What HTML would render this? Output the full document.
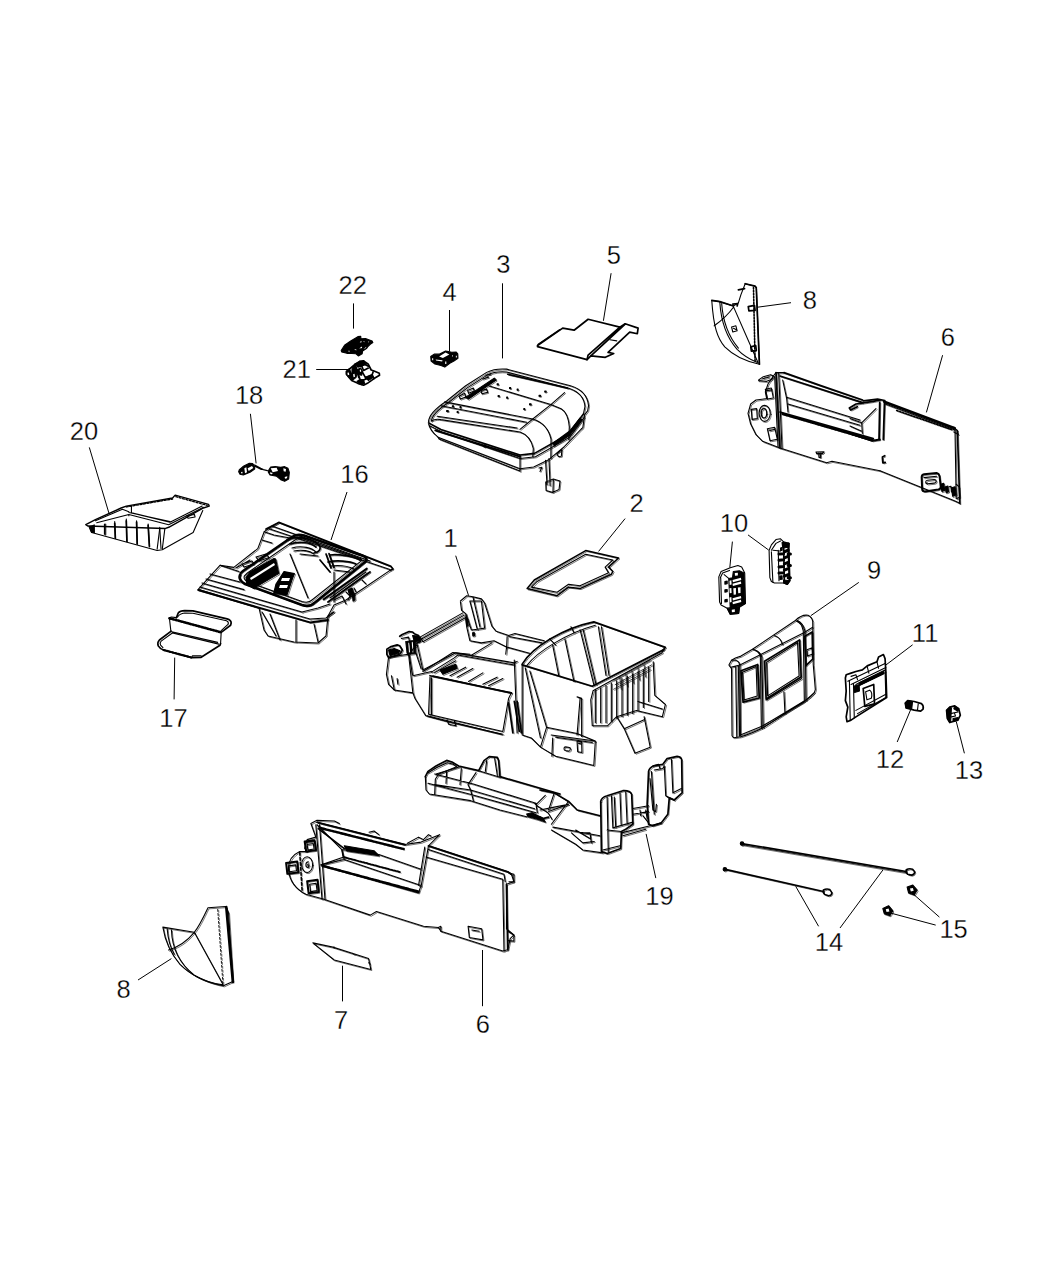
<!DOCTYPE html>
<html><head><meta charset="utf-8"><title>Console Parts</title>
<style>
html,body{margin:0;padding:0;background:#fff;width:1050px;height:1275px;overflow:hidden}
svg{display:block}
svg *{vector-effect:non-scaling-stroke}
.p path,.p polyline,.p polygon,.p line,.p ellipse,.p rect,.p circle{fill:none;stroke:#000;stroke-width:1.1;stroke-linejoin:round;stroke-linecap:round}
.p .w{fill:#fff}
.p .k{fill:#000}
.p .t{stroke-width:1.7}
.p .h{stroke-width:0.7}
.p .d{stroke-width:1.6;stroke-dasharray:1.5 1.5}
.dup *{fill:none !important;stroke-width:0.55px !important}
.lbl text{font-family:"Liberation Sans",sans-serif;font-size:25.5px;fill:#000;text-anchor:middle;stroke:#fff;stroke-width:0.3px}
.ldr line{stroke:#000;stroke-width:1;fill:none}
</style></head><body>
<svg width="1050" height="1275" viewBox="0 0 1050 1275">
<rect width="1050" height="1275" fill="#fff"/>
<!-- p01.svg -->
<g class="p" transform="translate(380,590) scale(0.142857)">
<path d="M280,330 L580,160 M300,362 L600,192 M285,346 L590,176 M280,330 L300,362"/>
<path class="t" d="M138,324 L156,312 L204,291 L228,294 L240,306 L270,318 L282,360 L258,372 M48,414 L78,396 L120,384 L138,390 L156,420 L144,444 L120,456 L60,474 L48,450 Z"/>
<path class="k" d="M186,360 L246,352 L252,444 L192,452 Z M60,420 L100,410 L140,425 L130,445 L70,460 Z M228,318 L268,322 L278,358 L240,360 Z"/>
<path class="w" style="stroke:none" d="M198,368 L206,367 L210,440 L202,441 Z M222,364 L230,363 L234,436 L226,437 Z M150,330 L200,305 L210,318 L160,340 Z"/>
<path d="M204,456 L228,594 M252,444 L288,552 M300,570 L510,438 L630,450"/>
<path d="M150,340 L200,330 L220,420 M180,360 L190,440 M60,470 L45,590 L60,660 L100,700 L230,720 L245,760 L320,880 L470,920 L860,1010 M60,470 L200,450 L230,720 M200,450 L260,380 L300,560 M230,600 L360,570"/>
<path d="M300,560 L530,440 L940,510 L960,500 M360,575 L520,475 L545,455 L940,525 M370,600 L920,720 M380,580 L530,495"/>
<path class="t" d="M350,600 L920,720"/>
<path d="M350,610 L340,870 L860,990 L900,760 L920,720 M360,615 L360,870 M330,880 L850,1010 M470,910 L480,940 L530,950 L520,915"/>
<path d="M490,600 L600,540 M620,640 L720,580 M720,660 L820,610 M760,670 L860,620 M540,610 L650,550"/>
<path class="k" d="M420,560 L530,520 L540,550 L440,590 Z"/>
<path d="M563,77 L607,40 L651,47 L710,62 L732,91 L783,253 L813,289 L901,319 L945,304 L1150,355 M563,84 L571,143 L600,165 L607,260 L629,355 L710,370 L798,355 L886,399 L1047,443 M629,77 L710,77 L732,267 L681,275 Z M651,50 L700,260 M890,326 L886,407 M901,326 L1135,370 M637,458 L783,370 M600,165 L640,280 L681,275 M886,399 L880,450"/>
<path class="k" d="M600,200 L612,198 L618,250 L606,252 Z M648,300 L660,298 L662,320 L650,322 Z"/>
<path class="t" d="M900,790 L930,1000 M960,780 L990,1000 M940,780 L975,990"/>
<path d="M80,600 L100,700 M120,620 L125,660 M940,490 L960,1000"/>
</g>
<g class="p" transform="translate(510,610) scale(0.152381)">
<path class="t" d="M80,355 C150,240 350,120 550,78 L1020,245 L1000,270"/>
<path d="M110,365 C180,270 380,150 560,100 M260,190 L300,230 M400,110 L420,150"/>
<path class="t" d="M1010,260 L540,500 L80,360"/>
<path d="M1000,280 L545,530 L530,590 L540,760 L640,760 L700,700 L830,660 L1000,700 L1020,620 L950,560 L940,340 M280,230 L320,430 M360,190 L420,470 M460,130 L550,490 M480,130 L565,490 M580,110 L630,430 M600,110 L650,430"/>
<path d="M80,360 L80,820 L140,840 L200,900 L300,960 L550,1020 L560,860 L440,810 L240,770 L130,400 M100,380 L200,840 M240,770 L200,900 M270,820 L560,860 M280,840 L275,960"/>
<path d="M560,520 L560,740 M595,510 L595,740 M630,495 L630,740 M665,480 L665,730 M700,465 L700,710 M735,450 L735,700 M770,435 L770,690 M805,420 L805,680 M840,405 L840,660 M875,390 L875,640 M910,375 L910,600"/>
<path class="h" d="M680,460 L920,330 M690,490 L930,360 M680,520 L920,390 M720,440 L730,520 M760,420 L770,500 M800,400 L810,480 M840,380 L850,460 M880,360 L890,440"/>
<path d="M700,700 L750,780 L820,940 L920,900 L880,700 M750,780 L880,720 M840,600 L1000,650 M440,570 L470,580 L470,830 M460,580 L440,820"/>
<path d="M355,905 Q355,898 365,898 L390,902 Q398,904 396,912 L394,920 Q392,926 384,926 L362,922 Q355,920 355,912 Z M440,860 L470,866 L472,935 L444,930 Z M450,875 L462,877 M300,835 L540,870"/>
</g>
<g class="p" transform="translate(380,490) scale(0.285714)">
<path style="stroke-width:1.5" d="M515,345 L540,315 L720,212 L835,238 L800,270 L815,285 L810,295 L700,345 L660,340 L620,370 Z"/>
<path d="M530,340 L550,320 L720,225 L815,245 L788,270 L800,290 L700,335 L660,330 L620,358 Z"/>
</g>

<g class="dup" transform="translate(1.2,1.0)">
<g class="p" transform="translate(380,590) scale(0.142857)">
<path d="M280,330 L580,160 M300,362 L600,192 M285,346 L590,176 M280,330 L300,362"/>
<path class="t" d="M138,324 L156,312 L204,291 L228,294 L240,306 L270,318 L282,360 L258,372 M48,414 L78,396 L120,384 L138,390 L156,420 L144,444 L120,456 L60,474 L48,450 Z"/>
<path class="k" d="M186,360 L246,352 L252,444 L192,452 Z M60,420 L100,410 L140,425 L130,445 L70,460 Z M228,318 L268,322 L278,358 L240,360 Z"/>
<path class="w" style="stroke:none" d="M198,368 L206,367 L210,440 L202,441 Z M222,364 L230,363 L234,436 L226,437 Z M150,330 L200,305 L210,318 L160,340 Z"/>
<path d="M204,456 L228,594 M252,444 L288,552 M300,570 L510,438 L630,450"/>
<path d="M150,340 L200,330 L220,420 M180,360 L190,440 M60,470 L45,590 L60,660 L100,700 L230,720 L245,760 L320,880 L470,920 L860,1010 M60,470 L200,450 L230,720 M200,450 L260,380 L300,560 M230,600 L360,570"/>
<path d="M300,560 L530,440 L940,510 L960,500 M360,575 L520,475 L545,455 L940,525 M370,600 L920,720 M380,580 L530,495"/>
<path class="t" d="M350,600 L920,720"/>
<path d="M350,610 L340,870 L860,990 L900,760 L920,720 M360,615 L360,870 M330,880 L850,1010 M470,910 L480,940 L530,950 L520,915"/>
<path d="M490,600 L600,540 M620,640 L720,580 M720,660 L820,610 M760,670 L860,620 M540,610 L650,550"/>
<path class="k" d="M420,560 L530,520 L540,550 L440,590 Z"/>
<path d="M563,77 L607,40 L651,47 L710,62 L732,91 L783,253 L813,289 L901,319 L945,304 L1150,355 M563,84 L571,143 L600,165 L607,260 L629,355 L710,370 L798,355 L886,399 L1047,443 M629,77 L710,77 L732,267 L681,275 Z M651,50 L700,260 M890,326 L886,407 M901,326 L1135,370 M637,458 L783,370 M600,165 L640,280 L681,275 M886,399 L880,450"/>
<path class="k" d="M600,200 L612,198 L618,250 L606,252 Z M648,300 L660,298 L662,320 L650,322 Z"/>
<path class="t" d="M900,790 L930,1000 M960,780 L990,1000 M940,780 L975,990"/>
<path d="M80,600 L100,700 M120,620 L125,660 M940,490 L960,1000"/>
</g>
<g class="p" transform="translate(510,610) scale(0.152381)">
<path class="t" d="M80,355 C150,240 350,120 550,78 L1020,245 L1000,270"/>
<path d="M110,365 C180,270 380,150 560,100 M260,190 L300,230 M400,110 L420,150"/>
<path class="t" d="M1010,260 L540,500 L80,360"/>
<path d="M1000,280 L545,530 L530,590 L540,760 L640,760 L700,700 L830,660 L1000,700 L1020,620 L950,560 L940,340 M280,230 L320,430 M360,190 L420,470 M460,130 L550,490 M480,130 L565,490 M580,110 L630,430 M600,110 L650,430"/>
<path d="M80,360 L80,820 L140,840 L200,900 L300,960 L550,1020 L560,860 L440,810 L240,770 L130,400 M100,380 L200,840 M240,770 L200,900 M270,820 L560,860 M280,840 L275,960"/>
<path d="M560,520 L560,740 M595,510 L595,740 M630,495 L630,740 M665,480 L665,730 M700,465 L700,710 M735,450 L735,700 M770,435 L770,690 M805,420 L805,680 M840,405 L840,660 M875,390 L875,640 M910,375 L910,600"/>
<path class="h" d="M680,460 L920,330 M690,490 L930,360 M680,520 L920,390 M720,440 L730,520 M760,420 L770,500 M800,400 L810,480 M840,380 L850,460 M880,360 L890,440"/>
<path d="M700,700 L750,780 L820,940 L920,900 L880,700 M750,780 L880,720 M840,600 L1000,650 M440,570 L470,580 L470,830 M460,580 L440,820"/>
<path d="M355,905 Q355,898 365,898 L390,902 Q398,904 396,912 L394,920 Q392,926 384,926 L362,922 Q355,920 355,912 Z M440,860 L470,866 L472,935 L444,930 Z M450,875 L462,877 M300,835 L540,870"/>
</g>
<g class="p" transform="translate(380,490) scale(0.285714)">
<path style="stroke-width:1.5" d="M515,345 L540,315 L720,212 L835,238 L800,270 L815,285 L810,295 L700,345 L660,340 L620,370 Z"/>
<path d="M530,340 L550,320 L720,225 L815,245 L788,270 L800,290 L700,335 L660,330 L620,358 Z"/>
</g>
</g>
<!-- p03.svg -->
<g class="p" transform="translate(420,340) scale(0.190476)">
<path d="M45,430 C45,395 80,360 140,320 L240,240 L350,170 C380,155 420,150 455,153 L790,240 C850,258 880,295 885,345 L880,372 L864,393 L855,460 L849,465"/>
<path d="M60,425 C62,395 95,365 150,328 L250,250 L355,183 C385,168 420,165 455,168 L785,255 C835,272 862,305 866,350 L858,388"/>
<path style="stroke-width:1.5" d="M460,180 L775,252"/>
<path d="M360,240 L687,339 L741,361 C765,375 780,411 784,456 L781,523 M759,276 L687,339 L592,415 L525,469"/>
<path d="M130,325 L592,415 C640,430 675,465 688,520 L687,622 M110,345 L560,432"/>
<path d="M60,425 C75,415 95,415 110,418 L525,483 C560,495 585,525 595,570 L592,613"/>
<path d="M90,400 L510,462"/>
<path style="stroke-width:1.6" d="M45,435 L110,470 L525,604 L601,595 L777,496 L858,388"/>
<path d="M50,450 L120,485 L525,622 L606,613 L786,510 L862,406"/>
<path class="k" d="M700,540 L786,478 L840,410 L850,420 L786,500 L704,556 Z"/>
<path d="M45,440 C50,465 70,490 95,510 L525,676 L597,667 L678,627 L759,559 L849,465"/>
<path style="stroke-width:1.8" d="M80,475 L330,552 L525,612"/>
<path d="M95,510 L100,520 L525,688 M525,604 L525,688"/>
<path class="k" d="M240,300 L390,200 L400,210 L255,310 Z"/>
<path d="M205,295 L235,280 L240,300 L212,310 Z M250,265 L280,252 L285,268 L255,280 Z M320,265 L350,258 L355,275 L325,282 Z M330,205 L360,195 M345,185 L370,180"/>
<circle class="k" cx="340" cy="556" r="6"/>
<path class="k" d="M405,230 l6,0 l0,5 l-6,0z M470,250 l6,0 l0,5 l-6,0z M510,258 l5,0 l0,5 l-5,0z M410,292 l6,0 l0,5 l-6,0z M455,300 l5,0 l0,5 l-5,0z M625,290 l8,0 l0,5 l-8,0z M655,268 l7,0 l0,5 l-7,0z M575,335 l8,0 l0,5 l-8,0z M545,360 l5,0 l0,5 l-5,0z M170,345 l6,0 l0,5 l-6,0z M210,350 l5,0 l0,5 l-5,0z M140,370 l8,0 l0,5 l-8,0z M195,375 l5,0 l0,5 l-5,0z"/>
<path d="M659,632 L667,760 M677,622 L683,765 M660,745 L700,730 L735,740 L730,785 L695,800 L662,790 Z M700,735 L698,800 M718,597 L745,575 L742,610 L727,612 Z M625,672 L640,668 L630,690"/>
</g>

<g class="dup" transform="translate(1.0,1.0)">
<g class="p" transform="translate(420,340) scale(0.190476)">
<path d="M45,430 C45,395 80,360 140,320 L240,240 L350,170 C380,155 420,150 455,153 L790,240 C850,258 880,295 885,345 L880,372 L864,393 L855,460 L849,465"/>
<path d="M60,425 C62,395 95,365 150,328 L250,250 L355,183 C385,168 420,165 455,168 L785,255 C835,272 862,305 866,350 L858,388"/>
<path style="stroke-width:1.5" d="M460,180 L775,252"/>
<path d="M360,240 L687,339 L741,361 C765,375 780,411 784,456 L781,523 M759,276 L687,339 L592,415 L525,469"/>
<path d="M130,325 L592,415 C640,430 675,465 688,520 L687,622 M110,345 L560,432"/>
<path d="M60,425 C75,415 95,415 110,418 L525,483 C560,495 585,525 595,570 L592,613"/>
<path d="M90,400 L510,462"/>
<path style="stroke-width:1.6" d="M45,435 L110,470 L525,604 L601,595 L777,496 L858,388"/>
<path d="M50,450 L120,485 L525,622 L606,613 L786,510 L862,406"/>
<path class="k" d="M700,540 L786,478 L840,410 L850,420 L786,500 L704,556 Z"/>
<path d="M45,440 C50,465 70,490 95,510 L525,676 L597,667 L678,627 L759,559 L849,465"/>
<path style="stroke-width:1.8" d="M80,475 L330,552 L525,612"/>
<path d="M95,510 L100,520 L525,688 M525,604 L525,688"/>
<path class="k" d="M240,300 L390,200 L400,210 L255,310 Z"/>
<path d="M205,295 L235,280 L240,300 L212,310 Z M250,265 L280,252 L285,268 L255,280 Z M320,265 L350,258 L355,275 L325,282 Z M330,205 L360,195 M345,185 L370,180"/>
<circle class="k" cx="340" cy="556" r="6"/>
<path class="k" d="M405,230 l6,0 l0,5 l-6,0z M470,250 l6,0 l0,5 l-6,0z M510,258 l5,0 l0,5 l-5,0z M410,292 l6,0 l0,5 l-6,0z M455,300 l5,0 l0,5 l-5,0z M625,290 l8,0 l0,5 l-8,0z M655,268 l7,0 l0,5 l-7,0z M575,335 l8,0 l0,5 l-8,0z M545,360 l5,0 l0,5 l-5,0z M170,345 l6,0 l0,5 l-6,0z M210,350 l5,0 l0,5 l-5,0z M140,370 l8,0 l0,5 l-8,0z M195,375 l5,0 l0,5 l-5,0z"/>
<path d="M659,632 L667,760 M677,622 L683,765 M660,745 L700,730 L735,740 L730,785 L695,800 L662,790 Z M700,735 L698,800 M718,597 L745,575 L742,610 L727,612 Z M625,672 L640,668 L630,690"/>
</g>
</g>
<!-- p04.svg -->
<g class="p" transform="translate(425,345) scale(0.038095)">
<path class="k" d="M150,300 L240,240 L370,240 L540,160 L620,170 L700,190 L820,185 L860,230 L865,350 L760,420 L650,480 L520,580 L420,540 L260,500 L160,420 Z"/>
<path class="w" style="stroke:none" d="M370,300 L540,200 L640,250 L470,340 Z M280,380 L460,400 L450,430 L290,410 Z M185,350 L215,350 L215,400 L190,400 Z M530,430 L560,430 L560,500 L530,500 Z M810,280 L835,280 L835,330 L810,330 Z M710,270 L730,270 L730,300 L710,300 Z"/>
</g>

<!-- p05.svg -->
<g class="p" transform="translate(520,240) scale(0.152381)">
<path class="t" d="M115,692 L280,578 L355,592 L447,520 L655,572 L690,550 L775,578 L770,615 L720,605 L578,738 L615,745 L560,770 L465,760 L440,785 L115,700 Z"/>
<path class="t" d="M440,785 L447,755 L655,572 M465,760 L690,552"/>
<path d="M590,655 L635,662"/>
<path class="t" d="M120,685 L260,590"/>
</g>

<!-- p06a.svg -->
<g class="p" transform="translate(740,360) scale(0.133333)">
<path d="M140,150 L175,125 L230,110 L250,120 L240,145 L200,160 L140,155 Z M170,140 L220,128"/>
<path d="M250,120 L270,95 L330,95 M250,120 L210,180 L190,240 L200,290 L120,300 L80,330 L60,400 L80,480 L120,560 L170,610 L300,660 L650,770 L690,760 L1050,830"/>
<path class="t" d="M270,95 L300,660"/>
<path d="M290,100 L315,660 M260,125 L285,650"/>
<path class="t" d="M330,95 L600,190 L920,300 M300,120 L920,320"/>
<ellipse cx="185" cy="400" rx="42" ry="60"/>
<ellipse cx="180" cy="400" rx="20" ry="35"/>
<path d="M190,220 L235,210 L250,285 L205,292 Z M205,515 L260,505 L280,595 L225,605 Z M85,370 L125,365 L130,440 L90,445 Z M200,230 L235,225 M220,530 L262,520"/>
<path d="M320,150 L350,290 L360,390 M350,280 L900,450 M360,330 L900,490"/>
<path class="t" d="M300,390 L1000,590"/>
<path class="d" style="stroke-width:2.4" d="M320,405 L990,600"/>
<path class="t" d="M820,360 L870,330 L1000,310 L1050,300 M820,360 L830,375 L880,350"/>
<path d="M570,690 L630,688 L620,700 L575,702 Z M590,700 L592,730 L605,730 L603,700"/>
</g>
<g class="p" transform="translate(730,320) scale(0.238095)">
<path class="t" d="M560,340 L620,332 L650,338"/>
<path d="M940,450 L955,465"/>
<path d="M650,352 L945,462"/>
<path style="stroke-width:2.6" d="M648,343 L944,455"/>
<path style="stroke-width:1.8" d="M629,346 L626,502 M649,346 L644,502"/>
<path class="t" d="M955,465 L965,770"/>
<path d="M945,460 L950,750 M630,633 L945,760 L965,770 M940,470 L960,480"/>
<path class="d" d="M700,380 L930,460"/>
<path style="stroke-width:2" d="M805,660 Q805,650 815,648 L868,643 Q878,645 880,655 L885,700 Q885,710 875,712 L818,720 Q808,720 807,710 Z"/>
<path d="M815,662 L868,656 M822,680 Q822,674 830,673 L858,670 Q866,670 866,677 Q866,684 858,685 L830,688 Q822,689 822,680 Z"/>
<path class="k" d="M885,690 L898,686 L902,716 L890,720 Z M905,700 L915,697 L918,722 L908,725 Z M930,705 L945,700 L950,735 L935,740 Z"/>
<path d="M920,700 L928,698 L930,722 M950,690 L962,700 L965,745 L952,750"/>
<path class="t" d="M640,575 L650,570 M640,578 L642,600 L652,598"/>
<path d="M504,414 L553,432 L613,372 M553,432 L556,476 M504,445 L551,466"/>
<path style="stroke-width:2.2" d="M504,476 L598,507 L629,502"/>
</g>

<g class="dup" transform="translate(1.0,1.1)">
<g class="p" transform="translate(740,360) scale(0.133333)">
<path d="M140,150 L175,125 L230,110 L250,120 L240,145 L200,160 L140,155 Z M170,140 L220,128"/>
<path d="M250,120 L270,95 L330,95 M250,120 L210,180 L190,240 L200,290 L120,300 L80,330 L60,400 L80,480 L120,560 L170,610 L300,660 L650,770 L690,760 L1050,830"/>
<path class="t" d="M270,95 L300,660"/>
<path d="M290,100 L315,660 M260,125 L285,650"/>
<path class="t" d="M330,95 L600,190 L920,300 M300,120 L920,320"/>
<ellipse cx="185" cy="400" rx="42" ry="60"/>
<ellipse cx="180" cy="400" rx="20" ry="35"/>
<path d="M190,220 L235,210 L250,285 L205,292 Z M205,515 L260,505 L280,595 L225,605 Z M85,370 L125,365 L130,440 L90,445 Z M200,230 L235,225 M220,530 L262,520"/>
<path d="M320,150 L350,290 L360,390 M350,280 L900,450 M360,330 L900,490"/>
<path class="t" d="M300,390 L1000,590"/>
<path class="d" style="stroke-width:2.4" d="M320,405 L990,600"/>
<path class="t" d="M820,360 L870,330 L1000,310 L1050,300 M820,360 L830,375 L880,350"/>
<path d="M570,690 L630,688 L620,700 L575,702 Z M590,700 L592,730 L605,730 L603,700"/>
</g>
<g class="p" transform="translate(730,320) scale(0.238095)">
<path class="t" d="M560,340 L620,332 L650,338"/>
<path d="M940,450 L955,465"/>
<path d="M650,352 L945,462"/>
<path style="stroke-width:2.6" d="M648,343 L944,455"/>
<path style="stroke-width:1.8" d="M629,346 L626,502 M649,346 L644,502"/>
<path class="t" d="M955,465 L965,770"/>
<path d="M945,460 L950,750 M630,633 L945,760 L965,770 M940,470 L960,480"/>
<path class="d" d="M700,380 L930,460"/>
<path style="stroke-width:2" d="M805,660 Q805,650 815,648 L868,643 Q878,645 880,655 L885,700 Q885,710 875,712 L818,720 Q808,720 807,710 Z"/>
<path d="M815,662 L868,656 M822,680 Q822,674 830,673 L858,670 Q866,670 866,677 Q866,684 858,685 L830,688 Q822,689 822,680 Z"/>
<path class="k" d="M885,690 L898,686 L902,716 L890,720 Z M905,700 L915,697 L918,722 L908,725 Z M930,705 L945,700 L950,735 L935,740 Z"/>
<path d="M920,700 L928,698 L930,722 M950,690 L962,700 L965,745 L952,750"/>
<path class="t" d="M640,575 L650,570 M640,578 L642,600 L652,598"/>
<path d="M504,414 L553,432 L613,372 M553,432 L556,476 M504,445 L551,466"/>
<path style="stroke-width:2.2" d="M504,476 L598,507 L629,502"/>
</g>
</g>
<!-- p06b.svg -->
<g class="p" transform="translate(270,800) scale(0.247619)">
<path d="M165,95 L190,82 L260,85 L280,95 M190,90 L545,180 L610,170 L685,140 L640,185 L960,290 L975,300 L985,330 L955,340 L955,520 L985,545 L970,560 L960,605 L940,610 L690,530 L680,515 L620,510 L430,450 L405,465 L215,400 L145,381 C105,360 80,330 75,285 C72,250 90,222 120,208 L150,208 L140,195 L150,160 L185,150 L165,95"/>
<path class="t" d="M190,90 L545,180 M640,185 L960,290 L975,300 M955,340 L960,605"/>
<path style="stroke-width:2.4;stroke-dasharray:2 1.2" d="M200,112 L540,198"/>
<path style="stroke-width:2.4;stroke-dasharray:2 1.2" d="M212,266 L600,370"/>
<path d="M185,100 L210,400 M200,100 L222,400 M190,100 L290,200 L300,240 L610,345 L600,375 L205,262 M290,200 L440,220 L610,280 M300,240 L205,262 M640,185 L610,350 M625,190 L600,345 M640,200 L945,300 L950,330 M630,230 L940,320 M940,320 L945,610"/>
<path class="k" d="M300,185 L420,205 L440,225 L310,205 Z"/>
<ellipse cx="150" cy="261" rx="22" ry="32"/>
<path d="M155,250 Q145,250 145,262 Q145,274 155,272 L158,262 L152,262"/>
<path style="stroke-width:2" d="M140,168 L180,163 L186,203 L146,208 Z M150,328 L192,322 L197,372 L156,377 Z M65,254 L110,248 L115,293 L70,298 Z"/>
<path d="M150,180 L175,176 L178,198 L153,202 Z M160,340 L186,336 L190,366 L164,370 Z M75,266 L104,262 L107,286 L78,290 Z"/>
<path class="d" style="stroke-width:1.6;stroke-dasharray:3 2" d="M120,211 L130,371"/>
<path style="stroke-width:1.6" d="M195,116 L300,196"/>
<path style="stroke-width:1.8;stroke-dasharray:2 1.2" d="M300,231 L525,291"/>
<path d="M290,201 L295,231 L210,261 M145,170 L180,165 M965,295 L985,300 L985,330 L965,330 M960,530 L985,545 L985,570 L962,568 M800,510 L855,520 L860,565 L805,555 Z M815,525 L845,530 M690,530 L690,510 L680,515"/>
<path d="M555,175 L600,150 L620,160 L640,140 L650,145 M400,130 L420,125 L440,140"/>
</g>
<g class="p" transform="translate(100,890) scale(0.285714)">
<path d="M220,130 L330,148 C345,130 360,100 378,62 L440,58 L450,80 L465,320 L432,335 C380,325 320,300 280,260 C245,220 228,180 220,130 Z"/>
<path d="M250,140 C252,200 275,255 330,298 C365,318 400,328 430,332 M330,148 L430,330 M330,148 C300,185 270,200 240,210 M235,135 C238,175 245,200 260,225"/>
<path style="stroke-width:2.6" d="M442,60 L465,322"/>
<path style="stroke-width:0.9;stroke-dasharray:2 2" d="M412,68 L430,325"/>
<path d="M745,185 L815,200 L940,240 L948,278 L820,245 Z M815,200 L820,200 M885,222 L890,225 M940,255 L945,258"/>
</g>
<g class="p" transform="translate(700,820) scale(0.285714)">
<path style="stroke-width:1.6" d="M145,82 L722,180 M85,172 L432,250"/>
<path style="stroke-width:0.8" d="M145,86 L722,184"/>
<circle class="k" cx="147" cy="82" r="6"/>
<circle class="k" cx="87" cy="172" r="6"/>
<path style="stroke-width:1.6" d="M722,174 Q732,168 744,172 L752,182 Q750,192 740,193 L727,190 Q719,184 722,174 Z M432,245 Q442,239 454,243 L462,255 Q460,265 450,265 L437,261 Q429,255 432,245 Z"/>
<path class="k" d="M725,235 L745,228 L760,245 L750,262 L730,255 Z M640,310 L660,300 L675,318 L665,335 L645,328 Z"/>
<path class="w" style="stroke:none" d="M735,240 L745,238 L748,248 L738,250 Z M650,312 L660,310 L663,320 L653,322 Z"/>
</g>

<g class="dup" transform="translate(1.0,1.1)">
<g class="p" transform="translate(270,800) scale(0.247619)">
<path d="M165,95 L190,82 L260,85 L280,95 M190,90 L545,180 L610,170 L685,140 L640,185 L960,290 L975,300 L985,330 L955,340 L955,520 L985,545 L970,560 L960,605 L940,610 L690,530 L680,515 L620,510 L430,450 L405,465 L215,400 L145,381 C105,360 80,330 75,285 C72,250 90,222 120,208 L150,208 L140,195 L150,160 L185,150 L165,95"/>
<path class="t" d="M190,90 L545,180 M640,185 L960,290 L975,300 M955,340 L960,605"/>
<path style="stroke-width:2.4;stroke-dasharray:2 1.2" d="M200,112 L540,198"/>
<path style="stroke-width:2.4;stroke-dasharray:2 1.2" d="M212,266 L600,370"/>
<path d="M185,100 L210,400 M200,100 L222,400 M190,100 L290,200 L300,240 L610,345 L600,375 L205,262 M290,200 L440,220 L610,280 M300,240 L205,262 M640,185 L610,350 M625,190 L600,345 M640,200 L945,300 L950,330 M630,230 L940,320 M940,320 L945,610"/>
<path class="k" d="M300,185 L420,205 L440,225 L310,205 Z"/>
<ellipse cx="150" cy="261" rx="22" ry="32"/>
<path d="M155,250 Q145,250 145,262 Q145,274 155,272 L158,262 L152,262"/>
<path style="stroke-width:2" d="M140,168 L180,163 L186,203 L146,208 Z M150,328 L192,322 L197,372 L156,377 Z M65,254 L110,248 L115,293 L70,298 Z"/>
<path d="M150,180 L175,176 L178,198 L153,202 Z M160,340 L186,336 L190,366 L164,370 Z M75,266 L104,262 L107,286 L78,290 Z"/>
<path class="d" style="stroke-width:1.6;stroke-dasharray:3 2" d="M120,211 L130,371"/>
<path style="stroke-width:1.6" d="M195,116 L300,196"/>
<path style="stroke-width:1.8;stroke-dasharray:2 1.2" d="M300,231 L525,291"/>
<path d="M290,201 L295,231 L210,261 M145,170 L180,165 M965,295 L985,300 L985,330 L965,330 M960,530 L985,545 L985,570 L962,568 M800,510 L855,520 L860,565 L805,555 Z M815,525 L845,530 M690,530 L690,510 L680,515"/>
<path d="M555,175 L600,150 L620,160 L640,140 L650,145 M400,130 L420,125 L440,140"/>
</g>
<g class="p" transform="translate(100,890) scale(0.285714)">
<path d="M220,130 L330,148 C345,130 360,100 378,62 L440,58 L450,80 L465,320 L432,335 C380,325 320,300 280,260 C245,220 228,180 220,130 Z"/>
<path d="M250,140 C252,200 275,255 330,298 C365,318 400,328 430,332 M330,148 L430,330 M330,148 C300,185 270,200 240,210 M235,135 C238,175 245,200 260,225"/>
<path style="stroke-width:2.6" d="M442,60 L465,322"/>
<path style="stroke-width:0.9;stroke-dasharray:2 2" d="M412,68 L430,325"/>
<path d="M745,185 L815,200 L940,240 L948,278 L820,245 Z M815,200 L820,200 M885,222 L890,225 M940,255 L945,258"/>
</g>
<g class="p" transform="translate(700,820) scale(0.285714)">
<path style="stroke-width:1.6" d="M145,82 L722,180 M85,172 L432,250"/>
<path style="stroke-width:0.8" d="M145,86 L722,184"/>
<circle class="k" cx="147" cy="82" r="6"/>
<circle class="k" cx="87" cy="172" r="6"/>
<path style="stroke-width:1.6" d="M722,174 Q732,168 744,172 L752,182 Q750,192 740,193 L727,190 Q719,184 722,174 Z M432,245 Q442,239 454,243 L462,255 Q460,265 450,265 L437,261 Q429,255 432,245 Z"/>
<path class="k" d="M725,235 L745,228 L760,245 L750,262 L730,255 Z M640,310 L660,300 L675,318 L665,335 L645,328 Z"/>
<path class="w" style="stroke:none" d="M735,240 L745,238 L748,248 L738,250 Z M650,312 L660,310 L663,320 L653,322 Z"/>
</g>
</g>
<!-- p08a.svg -->
<g class="p" transform="translate(700,280) scale(0.123810)">
<path d="M95,165 L160,175 L270,210 L310,185 L330,120 L365,30 L445,50 L455,62 L480,680 C380,660 280,620 200,540 C140,470 110,380 95,165 Z"/>
<path class="t" d="M95,165 L160,175 L270,210 M365,30 L445,50 L455,62"/>
<path d="M270,215 L470,670 M270,220 C220,290 170,330 115,370 M160,180 C170,330 210,460 300,560 C350,610 400,640 460,665 M175,190 C185,330 225,450 310,550"/>
<path class="t" d="M455,70 L480,680"/>
<path class="d" d="M432,60 L445,660"/>
<path class="t" d="M390,215 L440,205 L445,245 L395,250 Z M410,540 L450,530 L455,570 L415,575 Z M310,80 L360,70 M265,195 L305,190 L300,210"/>
<path d="M255,380 L290,370 L300,410 L265,420 Z M270,390 L290,400"/>
</g>

<!-- p09.svg -->
<g class="p" transform="translate(720,610) scale(0.104762)">
<path d="M85,525 L110,480 Q140,455 200,440 L310,375 L720,100 Q780,40 840,50 Q880,70 885,110 L890,520 L910,760 L900,790 Q870,830 820,860 L420,1120 Q300,1180 200,1210 L130,1220 L115,1200 L110,560 Z"/>
<path d="M110,545 L190,525 L800,218 L885,165 M110,480 Q160,470 180,500 L190,530 L195,1200 M150,545 L160,1210 M175,535 L185,1205"/>
<path d="M310,375 Q370,390 385,440 L395,1130 M330,380 Q385,400 400,450 L412,1125 M720,100 Q780,120 795,200 L805,870 M740,100 Q795,125 812,205 L822,865 M520,245 Q580,260 595,330"/>
<path class="t" d="M425,490 L760,285 L775,640 L440,850 Z"/>
<path d="M445,500 L740,310 L755,630 L455,820 Z M440,860 L780,655"/>
<path class="t" d="M200,580 L360,520 L375,840 L220,880 Z"/>
<path d="M215,595 L345,540 L355,820 L230,860 Z"/>
<path class="t" d="M810,250 L880,210 L885,470 L820,530 Z"/>
<path d="M830,380 L880,360 L885,420 L835,440 Z"/>
<path d="M200,1190 L400,1110 L800,880 L900,790 M610,780 L620,990 M420,1100 L800,870"/>
</g>

<g class="dup" transform="translate(1.1,0.9)">
<g class="p" transform="translate(720,610) scale(0.104762)">
<path d="M85,525 L110,480 Q140,455 200,440 L310,375 L720,100 Q780,40 840,50 Q880,70 885,110 L890,520 L910,760 L900,790 Q870,830 820,860 L420,1120 Q300,1180 200,1210 L130,1220 L115,1200 L110,560 Z"/>
<path d="M110,545 L190,525 L800,218 L885,165 M110,480 Q160,470 180,500 L190,530 L195,1200 M150,545 L160,1210 M175,535 L185,1205"/>
<path d="M310,375 Q370,390 385,440 L395,1130 M330,380 Q385,400 400,450 L412,1125 M720,100 Q780,120 795,200 L805,870 M740,100 Q795,125 812,205 L822,865 M520,245 Q580,260 595,330"/>
<path class="t" d="M425,490 L760,285 L775,640 L440,850 Z"/>
<path d="M445,500 L740,310 L755,630 L455,820 Z M440,860 L780,655"/>
<path class="t" d="M200,580 L360,520 L375,840 L220,880 Z"/>
<path d="M215,595 L345,540 L355,820 L230,860 Z"/>
<path class="t" d="M810,250 L880,210 L885,470 L820,530 Z"/>
<path d="M830,380 L880,360 L885,420 L835,440 Z"/>
<path d="M200,1190 L400,1110 L800,880 L900,790 M610,780 L620,990 M420,1100 L800,870"/>
</g>
</g>
<!-- p10.svg -->
<g class="p" transform="translate(715,535) scale(0.07619)">
<path d="M50,550 L80,480 L200,430 L300,400 L350,420 L390,500 L400,900 L320,950 L310,1030 L200,1040 L160,960 L80,920 L60,880 Z"/>
<path d="M70,560 L100,500 L190,465 M75,560 L85,900 M120,520 L180,570"/>
<path class="k" d="M180,570 L230,560 L240,480 L320,470 L380,500 L395,900 L320,940 L200,960 Z M160,960 L320,950 L310,1030 L200,1040 Z"/>
<path class="w" style="stroke:none" d="M230,590 L340,560 L345,590 L235,620 Z M230,640 L340,610 L345,640 L235,670 Z M230,830 L340,800 L345,830 L235,860 Z M230,880 L340,850 L345,880 L235,910 Z M240,700 L275,695 L275,780 L245,785 Z M300,690 L335,685 L335,760 L305,765 Z M190,600 L215,595 L218,650 L193,655 Z M190,700 L215,695 L218,760 L193,765 Z M190,820 L215,815 L218,880 L193,885 Z M260,500 L300,495 L300,530 L262,535 Z M220,980 L260,975 L260,1010 L222,1015 Z"/>
<path class="k" d="M130,610 L160,605 L160,640 L130,645 Z M130,720 L160,715 L160,745 L130,750 Z M130,850 L160,845 L160,875 L130,880 Z"/>
<path d="M710,200 L740,130 L800,60 L860,50 L900,90 L970,110 L985,600 L950,650 L900,630 L780,630 L740,610 L720,560 Z"/>
<path d="M740,220 L760,620 M760,200 L860,210 M740,200 L800,110 L860,80 M830,200 L840,600"/>
<path class="t" d="M900,100 L910,600 M960,110 L975,600"/>
<path class="k" d="M880,100 L975,110 L970,160 L890,170 Z M900,590 L985,600 L950,650 L900,630 Z"/>
<path style="stroke-width:3" d="M840,250 L900,245 M840,330 L900,325 M840,420 L900,415 M840,500 L900,495 M910,220 L960,200 M910,300 L960,280 M910,380 L960,360 M910,460 L960,440 M910,540 L960,520 M960,250 L990,250 M960,400 L990,400 M960,560 L990,560"/>
<path class="k" d="M850,540 L880,535 L882,580 L852,585 Z M860,170 L880,165 L882,200 L862,205 Z"/>
</g>

<!-- p11.svg -->
<g class="p" transform="translate(830,610) scale(0.161905)">
<path class="t" d="M95,420 L100,400 L130,390 L160,380 L200,370 L230,345 L290,320 L300,290 L330,275 L340,300 L345,380 L350,540 L160,660 L130,680 L105,690 L100,660 L110,600 L95,560 L100,500 Z"/>
<path d="M110,440 L340,330 M130,460 L345,355 M150,480 L345,385 M120,440 L125,680 M145,455 L150,665 M160,460 L340,370 L345,540"/>
<path class="k" d="M150,470 L180,460 L182,500 L152,510 Z M180,450 L330,380 L330,395 L185,465 Z"/>
<path class="t" d="M205,485 L270,460 L275,580 L215,595 Z"/>
<path d="M220,505 L245,495 Q265,510 255,545 L228,555 Z M160,620 L345,520 M170,640 L345,540"/>
<path d="M130,410 L160,400 L170,430 M230,350 L240,390 M290,320 L300,360"/>
</g>
<g class="p" transform="translate(830,610) scale(0.161905)">
<path class="t" d="M465,575 L480,560 L520,565 L565,578 Q580,590 575,612 L560,625 L520,618 L470,605 Z"/>
<path class="k" d="M465,575 L480,560 L510,565 L505,608 L470,605 Z"/>
<path d="M545,580 L540,620"/>
<path class="t" d="M720,620 L740,600 L770,592 L795,610 L805,650 L790,680 L740,695 L725,670 Z"/>
<path class="k" d="M720,620 L740,600 L750,605 L745,690 L740,695 L725,670 Z M770,592 L795,610 L790,625 L765,610 Z M760,670 L790,665 L790,680 L760,688 Z"/>
<path d="M745,640 L790,630 M750,660 L775,655 L770,640"/>
</g>

<!-- p16.svg -->
<g class="p" transform="translate(190,460) scale(0.2)">
<path class="t" d="M380,345 L444,312 L1005,532 L1015,545 L1000,552"/>
<path d="M444,312 L392,343 L371,359 L339,443 L219,537 L151,526 L41,647 L345,740 M1000,552 L870,640 L780,700 L720,725 L690,780 L680,880 L640,915 L520,910 L390,880 L370,850 L345,740"/>
<path d="M392,343 L1000,548 M410,330 L900,505 M371,359 L420,375 L500,390 M360,400 L410,415"/>
<path d="M151,526 L245,558 M60,615 L560,760 M50,635 L600,795 M600,795 L680,790 L720,760 M100,570 L250,610 M80,595 L270,648 M560,760 L640,740 L700,720"/>
<path style="stroke-width:2" d="M41,650 L600,812 L690,800"/>
<path style="stroke-width:2.6" d="M250,575 Q240,600 275,620 L560,725 Q600,738 625,712 L875,510 Q895,490 860,478 L570,378 Q535,368 510,385 L265,555 Q250,565 250,575 Z"/>
<path d="M272,580 Q265,598 292,610 L560,708 Q592,718 610,700 L852,508 Q866,496 843,489 L572,396 Q543,388 525,400 L287,565 Z"/>
<path class="k" d="M282,585 L300,560 L420,492 L428,495 L444,568 L318,642 L282,618 Z"/>
<path class="w" style="stroke:none" d="M300,590 L420,515 L425,525 L305,600 Z"/>
<path class="k" d="M470,558 L522,568 L510,600 L486,673 L418,668 L430,620 Z"/>
<path class="w" style="stroke:none" d="M460,590 L500,590 L495,605 L455,605 Z M450,625 L490,625 L485,640 L445,640 Z"/>
<path d="M500,470 L590,690 M720,560 L720,710 M230,540 L300,500 M330,485 L380,470 L395,488 L345,505 Z M260,520 L310,505 L320,520 L270,535 Z"/>
<path class="t" d="M485,400 C520,380 600,385 640,420 C660,440 650,460 620,465 M500,420 C540,405 600,410 630,435"/>
<path d="M510,440 C560,425 610,440 630,460 M520,455 C560,445 600,455 620,470 M550,470 L640,480"/>
<path class="t" d="M700,475 C740,470 820,480 850,500 M690,510 C730,500 800,505 830,520"/>
<path d="M700,530 C740,525 790,530 820,545 M720,550 L800,560"/>
<path class="t" d="M680,470 L705,540 M695,468 L720,538 M650,500 L700,560"/>
<path style="stroke-width:2" d="M668,697 L884,543 M690,710 L900,560"/>
<path d="M700,690 L880,560 M720,700 L760,680 L780,720 M780,660 L800,680 L790,700 M820,640 L830,660 M860,600 L880,620"/>
<path class="k" d="M790,650 L810,640 L820,670 L800,680 Z M812,672 L822,668 L825,700 L815,705 Z"/>
<path d="M360,760 L430,880 M530,800 L530,910 M620,820 L640,910 M400,770 L450,900 M690,780 L720,760"/>
</g>

<g class="dup" transform="translate(1.1,1.0)">
<g class="p" transform="translate(190,460) scale(0.2)">
<path class="t" d="M380,345 L444,312 L1005,532 L1015,545 L1000,552"/>
<path d="M444,312 L392,343 L371,359 L339,443 L219,537 L151,526 L41,647 L345,740 M1000,552 L870,640 L780,700 L720,725 L690,780 L680,880 L640,915 L520,910 L390,880 L370,850 L345,740"/>
<path d="M392,343 L1000,548 M410,330 L900,505 M371,359 L420,375 L500,390 M360,400 L410,415"/>
<path d="M151,526 L245,558 M60,615 L560,760 M50,635 L600,795 M600,795 L680,790 L720,760 M100,570 L250,610 M80,595 L270,648 M560,760 L640,740 L700,720"/>
<path style="stroke-width:2" d="M41,650 L600,812 L690,800"/>
<path style="stroke-width:2.6" d="M250,575 Q240,600 275,620 L560,725 Q600,738 625,712 L875,510 Q895,490 860,478 L570,378 Q535,368 510,385 L265,555 Q250,565 250,575 Z"/>
<path d="M272,580 Q265,598 292,610 L560,708 Q592,718 610,700 L852,508 Q866,496 843,489 L572,396 Q543,388 525,400 L287,565 Z"/>
<path class="k" d="M282,585 L300,560 L420,492 L428,495 L444,568 L318,642 L282,618 Z"/>
<path class="w" style="stroke:none" d="M300,590 L420,515 L425,525 L305,600 Z"/>
<path class="k" d="M470,558 L522,568 L510,600 L486,673 L418,668 L430,620 Z"/>
<path class="w" style="stroke:none" d="M460,590 L500,590 L495,605 L455,605 Z M450,625 L490,625 L485,640 L445,640 Z"/>
<path d="M500,470 L590,690 M720,560 L720,710 M230,540 L300,500 M330,485 L380,470 L395,488 L345,505 Z M260,520 L310,505 L320,520 L270,535 Z"/>
<path class="t" d="M485,400 C520,380 600,385 640,420 C660,440 650,460 620,465 M500,420 C540,405 600,410 630,435"/>
<path d="M510,440 C560,425 610,440 630,460 M520,455 C560,445 600,455 620,470 M550,470 L640,480"/>
<path class="t" d="M700,475 C740,470 820,480 850,500 M690,510 C730,500 800,505 830,520"/>
<path d="M700,530 C740,525 790,530 820,545 M720,550 L800,560"/>
<path class="t" d="M680,470 L705,540 M695,468 L720,538 M650,500 L700,560"/>
<path style="stroke-width:2" d="M668,697 L884,543 M690,710 L900,560"/>
<path d="M700,690 L880,560 M720,700 L760,680 L780,720 M780,660 L800,680 L790,700 M820,640 L830,660 M860,600 L880,620"/>
<path class="k" d="M790,650 L810,640 L820,670 L800,680 Z M812,672 L822,668 L825,700 L815,705 Z"/>
<path d="M360,760 L430,880 M530,800 L530,910 M620,820 L640,910 M400,770 L450,900 M690,780 L720,760"/>
</g>
</g>
<!-- p17.svg -->
<g class="p" transform="translate(140,590) scale(0.117647)">
<path class="t" d="M310,235 L325,195 Q340,175 380,175 L450,178 L740,245 Q775,255 775,280 L770,300 L690,360"/>
<path d="M320,230 Q335,200 380,195 L450,198 L735,262 Q755,270 750,290 L690,345"/>
<path class="t d" style="stroke-width:2.6" d="M250,240 L690,360"/>
<path d="M250,240 L265,230 L310,235 M250,240 L262,345 M690,360 L685,455"/>
<path class="t" d="M265,350 L165,425 Q145,445 155,475 Q170,500 200,510 L440,575 L520,572 L680,470 L685,455"/>
<path class="d" style="stroke-width:2.2" d="M200,510 L440,575"/>
<path d="M275,365 L180,435 Q165,450 175,468 L195,490 M275,365 L670,460 M270,355 L660,445"/>
<path d="M440,575 L445,560 L520,560"/>
</g>

<!-- p18.svg -->
<g class="p" transform="translate(230,455) scale(0.066667)">
<path class="k" d="M140,220 L200,170 L290,125 L340,130 L370,170 L370,210 L300,260 L200,300 L150,290 L130,250 Z"/>
<path class="w" style="stroke:none" d="M215,200 L245,185 L255,260 L225,272 Z M265,200 L330,165 L350,195 L280,240 Z M165,255 L185,250 L190,275 L170,278 Z"/>
<path style="stroke-width:1.4" d="M370,150 L460,200 L500,220 L560,235 M380,170 L470,215"/>
<path class="k" d="M580,230 L610,180 L680,175 L760,185 L820,175 L870,200 L890,260 L880,360 L820,395 L760,370 L700,320 L600,300 L575,260 Z"/>
<path class="w" style="stroke:none" d="M610,200 L700,190 L720,240 L640,260 Z M800,200 L840,210 L835,250 L805,245 Z M820,330 L860,320 L855,350 L825,355 Z M600,260 L640,270 L630,290 L605,285 Z"/>
</g>

<!-- p19.svg -->
<g class="p" transform="translate(420,750) scale(0.133333)">
<path class="t" d="M40,200 L60,160 L120,120 L200,78 L240,90 L290,120 L440,155 L480,80 L520,50 L580,55 L590,80 L600,200 L1050,330"/>
<path d="M60,170 L130,130 L205,95 L245,105 L275,125 L140,180 L115,220 L110,330 M40,200 L45,300 L70,330 L380,380 L600,450 L800,500 M440,155 L600,205"/>
<path d="M120,180 L300,125 M110,180 L400,255 L870,400 M110,260 L380,300 L860,440 M60,250 L370,330 L870,470 M200,160 L195,250 M310,140 L300,260 M420,170 L360,260 L380,300 L400,380 M500,80 L490,160 M560,65 L580,190 M860,400 L880,420 M940,340 L870,410 L880,470 M880,420 L960,470 L990,520"/>
<path class="k" d="M800,480 L840,470 L920,510 L940,540 L880,520 L810,500 Z"/>
</g>
<g class="p" transform="translate(540,750) scale(0.142857)">
<path class="t" d="M0,280 L100,300 L200,360 L260,420 L420,460 M425,360 Q430,330 470,320 L580,285 Q630,282 642,310 L650,520 L600,555 L570,570 L565,690 L470,725 L430,710 L425,360 Z"/>
<path d="M470,330 L478,712 M500,320 L510,545 L650,505 M560,300 L568,520 M520,330 L530,540 M600,295 L610,520 M470,560 L570,570 M440,700 L560,670"/>
<path class="t" d="M760,150 Q765,120 800,110 L860,100 L890,60 L960,45 Q990,48 992,70 L995,300 L940,350 L905,335 L895,450 L850,510 L790,530 L760,520 L750,380 Z"/>
<path d="M870,110 L880,320 L940,350 M920,65 L930,300 L990,270 M780,150 L800,450 M800,140 L860,130 L870,110 M770,200 L790,420 L810,430 L815,380 M880,320 L905,335 M790,110 L830,100 L840,130"/>
<path d="M650,410 L760,390 M650,450 L760,430 M700,420 L705,460 M720,460 L760,510 M570,580 L750,535 L850,510 M580,600 L740,555 M740,420 L750,480"/>
<path d="M0,420 L100,400 L200,380 M60,430 L200,380 M80,560 L250,660 L300,700 L440,720 M90,540 L420,600 M100,300 L60,420 M200,360 L80,520 M220,580 L300,650 L380,640 M250,560 L350,620 M300,580 L350,580 L360,650"/>
<path class="t" style="stroke-width:1.8" d="M0,470 L20,480 L60,470"/>
</g>

<g class="dup" transform="translate(1.0,1.1)">
<g class="p" transform="translate(420,750) scale(0.133333)">
<path class="t" d="M40,200 L60,160 L120,120 L200,78 L240,90 L290,120 L440,155 L480,80 L520,50 L580,55 L590,80 L600,200 L1050,330"/>
<path d="M60,170 L130,130 L205,95 L245,105 L275,125 L140,180 L115,220 L110,330 M40,200 L45,300 L70,330 L380,380 L600,450 L800,500 M440,155 L600,205"/>
<path d="M120,180 L300,125 M110,180 L400,255 L870,400 M110,260 L380,300 L860,440 M60,250 L370,330 L870,470 M200,160 L195,250 M310,140 L300,260 M420,170 L360,260 L380,300 L400,380 M500,80 L490,160 M560,65 L580,190 M860,400 L880,420 M940,340 L870,410 L880,470 M880,420 L960,470 L990,520"/>
<path class="k" d="M800,480 L840,470 L920,510 L940,540 L880,520 L810,500 Z"/>
</g>
<g class="p" transform="translate(540,750) scale(0.142857)">
<path class="t" d="M0,280 L100,300 L200,360 L260,420 L420,460 M425,360 Q430,330 470,320 L580,285 Q630,282 642,310 L650,520 L600,555 L570,570 L565,690 L470,725 L430,710 L425,360 Z"/>
<path d="M470,330 L478,712 M500,320 L510,545 L650,505 M560,300 L568,520 M520,330 L530,540 M600,295 L610,520 M470,560 L570,570 M440,700 L560,670"/>
<path class="t" d="M760,150 Q765,120 800,110 L860,100 L890,60 L960,45 Q990,48 992,70 L995,300 L940,350 L905,335 L895,450 L850,510 L790,530 L760,520 L750,380 Z"/>
<path d="M870,110 L880,320 L940,350 M920,65 L930,300 L990,270 M780,150 L800,450 M800,140 L860,130 L870,110 M770,200 L790,420 L810,430 L815,380 M880,320 L905,335 M790,110 L830,100 L840,130"/>
<path d="M650,410 L760,390 M650,450 L760,430 M700,420 L705,460 M720,460 L760,510 M570,580 L750,535 L850,510 M580,600 L740,555 M740,420 L750,480"/>
<path d="M0,420 L100,400 L200,380 M60,430 L200,380 M80,560 L250,660 L300,700 L440,720 M90,540 L420,600 M100,300 L60,420 M200,360 L80,520 M220,580 L300,650 L380,640 M250,560 L350,620 M300,580 L350,580 L360,650"/>
<path class="t" style="stroke-width:1.8" d="M0,470 L20,480 L60,470"/>
</g>
</g>
<!-- p20.svg -->
<g class="p" transform="translate(80,490) scale(0.128571)">
<path style="stroke-width:1.4" d="M45,270 L120,230 L320,140 L360,125 L720,62 L740,40 L1000,112 L1005,125 L960,140 L690,290 L660,300 L60,280 Z"/>
<path style="stroke-width:1.3;stroke-dasharray:2 1.5" d="M360,132 L720,70 M745,52 L990,120"/>
<path d="M120,240 L330,150 L380,170 M130,255 L380,190 L690,270 M380,190 L380,200 M400,125 L400,175 M410,180 L700,250 L950,125 M690,270 L960,135 M380,175 L700,245"/>
<path d="M70,285 L80,310 L90,330 L600,470 L640,465 L880,330 L955,160"/>
<path d="M660,300 L640,460 M620,300 L600,460 M110,270 L105,330"/>
<path d="M190,265 L190,345 M270,245 L275,375 M360,225 L365,400 M440,240 L445,420 M530,265 L540,440 M620,290 L630,455 M200,265 L200,350"/>
<path class="t" d="M270,260 L275,375 M360,240 L365,400 M440,250 L445,420 M530,275 L540,440"/>
<path d="M830,200 L890,190 L895,210 L840,220 Z"/>
<path class="k" d="M75,285 L110,275 L112,330 L90,330 Z"/>
</g>

<!-- p22_21.svg -->
<g class="p" transform="translate(335,330) scale(0.047619)">
<path class="k" d="M130,430 L200,320 L330,230 L480,140 L540,130 L545,185 L640,180 L780,230 L795,265 L740,300 L690,350 L660,390 L580,440 L570,500 L490,545 L440,500 L350,495 L250,490 L140,460 Z"/>
<path class="w" style="stroke:none" d="M520,260 L550,225 L560,255 Z M590,240 L620,235 L615,255 Z M510,390 L560,345 L570,380 Z M400,400 L450,410 L445,430 Z M275,440 L300,430 L305,465 Z M690,240 L720,245 L705,265 Z M600,400 L660,350 L650,380 Z"/>
<path class="w t" d="M240,870 L300,820 L420,720 L520,660 L600,650 L700,720 L760,840 L820,860 L930,910 L935,950 L820,1020 L680,1120 L600,1160 L480,1120 L350,1060 L290,990 L240,930 Z"/>
<path class="t" d="M300,820 L360,1050 M420,720 L500,1000 M440,780 L540,1080 M520,660 L600,850 M600,650 L640,730 M580,700 L700,760 M480,760 L650,720 M600,850 L700,800 M560,860 L640,1000 M640,1000 L780,940 L800,880 M780,940 L820,1020 M600,1050 L720,1000 M470,1080 L560,1050 L600,1120"/>
<path class="k" d="M240,870 L300,820 L330,900 L340,1000 L290,990 L240,930 Z M360,780 L420,720 L440,800 L470,900 L440,1000 L370,1050 L350,1000 Z M420,720 L520,660 L600,650 L640,720 L560,760 L480,780 Z M470,830 L540,800 L580,880 L560,950 L500,940 Z M500,1050 L600,1040 L620,1120 L560,1150 L480,1120 Z M640,1000 L780,940 L800,1000 L700,1060 Z"/>
<path class="w" style="stroke:none" d="M260,900 L290,890 L300,940 L270,950 Z M380,930 L410,920 L420,980 L390,990 Z M520,840 L545,830 L550,870 L525,880 Z"/>
</g>


<g class="lbl">
<text x="352.7" y="294.3">22</text>
<text x="449.5" y="300.6">4</text>
<text x="503.4" y="273.4">3</text>
<text x="613.9" y="263.6">5</text>
<text x="809.9" y="308.5">8</text>
<text x="947.8" y="346.2">6</text>
<text x="296.7" y="378.1">21</text>
<text x="249.1" y="404">18</text>
<text x="84" y="439.9">20</text>
<text x="354.5" y="483">16</text>
<text x="636.6" y="512.3">2</text>
<text x="450.6" y="547.1">1</text>
<text x="734" y="531.8">10</text>
<text x="874.1" y="579.4">9</text>
<text x="925.1" y="641.6">11</text>
<text x="173.4" y="726.5">17</text>
<text x="890" y="767.9">12</text>
<text x="968.9" y="779.2">13</text>
<text x="659.4" y="905.2">19</text>
<text x="953.6" y="938">15</text>
<text x="828.9" y="951.4">14</text>
<text x="123.7" y="998">8</text>
<text x="341" y="1028.6">7</text>
<text x="482.9" y="1033.3">6</text>
</g>
<g class="ldr">
<line x1="353.5" y1="303.4" x2="353.5" y2="328.6"/>
<line x1="449.5" y1="310" x2="449.5" y2="351.4"/>
<line x1="316.2" y1="369.5" x2="348.6" y2="369.5"/>
<line x1="611.1" y1="273.2" x2="603.4" y2="320.8"/>
<line x1="791" y1="302.7" x2="757.6" y2="307.2"/>
<line x1="942.6" y1="355.2" x2="926.4" y2="412.4"/>
<line x1="502.5" y1="283.3" x2="502.5" y2="358.4"/>
<line x1="89.3" y1="447.4" x2="109.1" y2="513.7"/>
<line x1="250.4" y1="413.8" x2="256.1" y2="463.4"/>
<line x1="347" y1="492" x2="331" y2="540"/>
<line x1="174.7" y1="657.6" x2="174.1" y2="699.4"/>
<line x1="455.7" y1="555.7" x2="468.6" y2="595.7"/>
<line x1="625.1" y1="518.6" x2="598.6" y2="551.4"/>
<line x1="732.4" y1="541.6" x2="729.8" y2="567.6"/>
<line x1="748" y1="534.9" x2="768.6" y2="550"/>
<line x1="858.8" y1="582.4" x2="810.8" y2="615.7"/>
<line x1="912.6" y1="644.8" x2="885.9" y2="665"/>
<line x1="897.2" y1="742" x2="911" y2="708.8"/>
<line x1="964.4" y1="753.3" x2="956.3" y2="721.7"/>
<line x1="655.8" y1="878.1" x2="646.1" y2="833.9"/>
<line x1="818.6" y1="926.3" x2="795.7" y2="886.3"/>
<line x1="840" y1="928" x2="882.9" y2="870"/>
<line x1="939.4" y1="917.1" x2="912.9" y2="893.7"/>
<line x1="935.7" y1="925.1" x2="890" y2="912.9"/>
<line x1="138" y1="980" x2="171.4" y2="958.6"/>
<line x1="342.5" y1="1001.4" x2="342.5" y2="965.7"/>
<line x1="482.5" y1="950" x2="482.5" y2="1006.2"/>
</g>

</svg>
</body></html>
